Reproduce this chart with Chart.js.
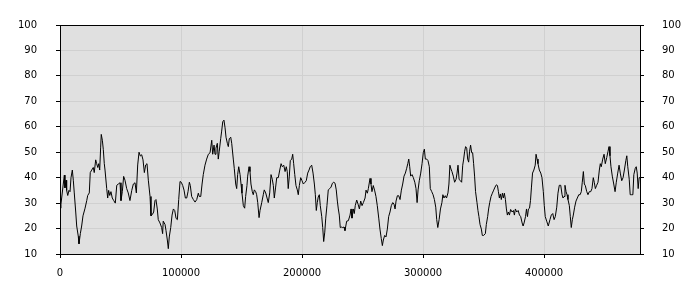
<!DOCTYPE html>
<html>
<head>
<meta charset="utf-8">
<script src="https://cdn.jsdelivr.net/npm/chart.js@4/dist/chart.umd.min.js"></script>
<style>
body{margin:0;background:#fff}
</style>
</head>
<body>
<canvas id="chart" width="700" height="300"></canvas>
<script>
// x positions of the samples
let xs = [0,800,2700,3600,4100,5000,5500,6400,7400,8300,9100,10200,11000,11800,13000,13800,15100,15700,16800,17900,
19000,20700,22100,22900,24200,25000,26200,27500,28300,29500,30300,31200,32000,32800,33600,34100,35000,35800,36600,37200,
38600,39400,40200,41100,42100,43200,44400,45700,46900,48200,49600,50400,51500,52600,53700,55100,56400,57800,59300,60600,
62000,63100,64200,65300,66400,67500,68600,69700,70800,71900,73000,74400,75200,76300,77400,78500,79300,80400,81200,82600,
84000,84800,85300,86800,87600,88700,89500,90300,91500,92600,93700,94800,95900,97000,98100,99200,100200,101400,102500,103600,
104700,105800,106900,107700,108800,110200,111600,113000,114300,115100,116300,117400,118400,119800,121200,122600,124000,125400,126200,127300,
128100,128900,130000,130800,131600,132800,133600,134500,135500,136400,137200,138300,139100,139900,141100,141900,143200,144000,145200,146000,
146800,147700,148800,149600,150400,151500,152600,153400,154500,155100,156200,157000,157800,158900,159700,160600,161700,162500,163400,164500,
165300,166700,168000,168800,170000,171100,172100,173300,174400,175400,176300,177100,178200,179100,180400,181600,182700,183700,184900,186000,
187000,187800,188600,189500,190300,191500,192300,193100,194000,195000,196100,196900,197800,198900,200000,201100,202500,203500,204700,205800,
206800,208000,209100,210200,211000,211800,212600,213400,214300,215100,216300,217100,217900,218800,219600,220600,221700,222900,224000,225100,
226200,227300,228300,229200,230000,230800,231600,232400,233600,234700,235500,236900,238300,239700,240500,241300,242400,243200,244000,245200,
246300,247400,248500,249600,250700,252100,252900,254000,254800,256200,257000,257800,258900,260100,261100,262200,263400,264400,265500,266400,
267200,268300,269400,270500,271600,272700,273800,275000,276000,276900,277700,278800,279900,281000,282100,283200,284300,285400,286500,287400,
288200,289000,289800,290900,292000,293200,294200,295100,295900,296900,298100,299200,300200,301100,301900,303100,304100,305200,306000,307200,
308300,309400,310500,311300,312200,313300,314400,315600,316400,317300,318400,319400,320600,321400,322200,323100,323900,325000,326100,327300,
328100,328900,329800,330800,331900,332800,333600,334400,335200,336100,336900,337700,338500,339300,340200,341000,341800,342600,343400,344600,
345400,346200,347100,348200,349000,350100,351500,352300,353400,354200,355100,356200,357300,358400,359500,360600,361500,362300,363100,363900,
364700,365600,366400,367200,368100,368900,369700,370500,371400,372400,373600,374700,375500,376300,377400,378600,379700,380700,381900,382700,
383500,384700,385500,386300,387100,388000,388800,389600,390500,391600,392700,393400,394200,395000,396100,397300,398300,399400,400200,401000,
402200,403500,404900,406000,407200,408300,409300,410500,411500,412600,413800,414900,415700,416500,417300,418200,419000,419800,420900,421700,
422500,423400,424200,425300,426400,427500,428700,429800,430800,431600,432500,433300,434100,435300,436300,437400,438600,439600,440700,441500,
442400,443500,444600,445700,446500,447300,448500,449600,450600,451800,452900,453700,454500,455300,456400,457600,458700,459700,460900,462000,
463000,464200,465300,466400,467600,468400,469200,470400,471200,472300,473400,474200,475400,476200,477000,477800,478600,479300]

let ys = [28,29.6,37.5,41,36,39,35,33,35,34.5,40,43,39,34,26.5,21,17,14,18,21,
25,28,31,33,34,42,43,44,42,47,45.5,44,45.5,43,52,57,54.7,51,45.5,43,
35.7,32,35,33,34.5,32,31,30,37,37.5,38,31,34.5,40.5,39,35.7,34,31,35,37.5,
38,34,45,50,48.5,49,47,42,45,45.5,39,32.6,25,25.5,26.5,31,31.4,27.7,23.5,22.2,
20.4,18,22.9,21.6,19.2,15.5,12.1,16.7,20.4,25.3,27.7,27.1,24,23.5,31.4,38.5,38.2,36.9,35.1,32,
32,34.5,38.2,36.9,32.6,31.4,30.4,31.4,33.9,32.6,32.6,37.5,41.2,44.9,47.3,49.2,49.8,54.7,49.2,52.8,
49.2,51.6,53.5,47.3,50.4,55.3,58.3,62,62.6,59.6,55.9,53.5,52.2,55.3,55.9,53.5,47.3,43.7,37.5,35.7,
41.2,44.3,41.2,37.5,33.9,29,28,32.6,36.9,40.6,44.3,42.4,37.5,34.5,33.3,35.2,34.5,33.3,30.2,24.3,
27.1,30.2,33.3,35.2,34,32,30.2,34,41.2,39.4,36.9,32,36.3,40,40,43,45.5,44.3,44.9,42.4,
44.3,42.4,35.7,40.6,46.7,47.3,49.2,45.5,41.2,36.9,35.2,33.3,36.9,40,38.8,37.5,38.2,38.8,41.8,43,
44.3,44.9,41.8,37.5,33.3,27.1,30.2,32.4,33.3,29,24.7,20.4,14.9,18.6,24.1,29,35.2,35.7,36.3,37.8,
38.2,37.8,35.2,30.8,27.7,25.3,20.4,20.6,20.4,20.6,19.2,22.9,23.1,25.3,27.7,24.1,27.7,25.9,29,31.2,
29.6,27.7,30.8,29,30.2,32,35.1,33.9,35.7,39.7,37.5,34.5,36.9,34.8,32.6,29,24.1,19.8,16.1,13.3,
15.5,17.3,16.7,19.8,24.7,26.5,29,30.2,29.6,27.7,30.8,32.9,32.9,31.4,35.1,37.5,40.6,41.8,43.7,45.5,
47.3,44.3,40.6,41.2,40,38.2,35.7,30.2,35.2,38.8,41.8,45.5,49.8,51.2,47.3,47.3,46.7,44.3,35.7,34.5,
33.3,31.4,28.4,23.5,20.4,23.5,27.7,30.2,33.3,32,32.9,32,34,37.5,44.9,43.4,42.4,40.6,38.2,39.4,
41.8,44.9,39.4,38.8,38.2,44.9,47.3,50.4,52.2,51.6,47.3,46.1,50.4,52.8,49.8,49.8,45.5,40.6,34.5,30.2,
27.1,24.7,21.6,19.8,17.3,17.3,18,21.6,24.7,27.7,30.2,32.6,33.9,35.1,36.3,37.2,36.9,34.5,32,33.6,
31.4,33.9,32,33.9,31.4,27.7,25.3,26.5,25.3,27.5,26.5,27.1,25.3,27.7,26.5,27.1,25.3,24.7,22.2,21,
22.2,24.7,27.7,24.7,27.7,28,31,36.3,41.8,43,44.9,49.2,47.3,45.5,43,41.8,40,34.5,29,24.7,
22.9,21,23.5,25.3,25.9,23.5,24.7,28.4,33.9,37,37,33.3,32,32.6,37,34.5,33.3,31.4,29,24.7,
20.4,23.5,25.3,28.4,30.8,32,33.3,33.3,34.5,38.2,42.4,37.5,36.9,34.5,33.3,34.5,34.5,35.7,40,38.2,
35.7,37,38.2,43,45.5,44.3,47.3,49.2,45.5,47.9,50.4,52.2,48.6,44.3,40.6,37.5,34.5,38.2,41.8,44.9,
41.8,38.8,40,43,46.7,48.6,44.3,39.4,33.3,33.3,33.3,41.2,43.7,44.3,41.8,35.7,40,40]

let x_ticks = [0,100000,200000,300000,400000]
let y_ticks = [10,20,30,40,50,60,70,80,90,100]
let x_max = 479300
let y_min = 10
let y_max = 100

let plot_frame = {
	id: 'plot_frame',
	beforeDraw: function(chart){
		let a = chart.chartArea
		let ctx = chart.ctx
		ctx.save()
		ctx.fillStyle = '#e0e0e0'
		ctx.fillRect(a.left, a.top, a.right - a.left, a.bottom - a.top)
		ctx.restore()
	},
	afterDraw: function(chart){
		let a = chart.chartArea
		let ctx = chart.ctx
		ctx.save()
		ctx.strokeStyle = '#000'
		ctx.lineWidth = 1
		ctx.strokeRect(a.left + 0.5, a.top + 0.5, a.right - a.left, a.bottom - a.top)
		ctx.restore()
	}
}

let tick_font = { family: 'DejaVu Sans', size: 10 }

function y_axis(pos, pad, on_area){
	return {
		type: 'linear',
		position: pos,
		min: y_min,
		max: y_max,
		afterBuildTicks: (s)=>{ s.ticks = y_ticks.map(v=>({value: v})) },
		afterFit: (s)=>{ s.width = 60 },
		grid: { color: '#d0d0d0', tickColor: '#000', tickLength: 4, drawOnChartArea: on_area },
		border: { display: false },
		ticks: { font: tick_font, color: '#000', padding: pad, callback: (v)=>String(v) }
	}
}

new Chart('chart', {
	type: 'line',
	data: {
		datasets: [{
			data: xs.map((x, i)=>({ x: x, y: ys[i] })),
			borderColor: '#000',
			borderWidth: 1,
			pointRadius: 0,
			tension: 0,
			fill: false
		}]
	},
	options: {
		responsive: false,
		animation: false,
		devicePixelRatio: 1,
		layout: { padding: { top: 10, left: 0, right: 0, bottom: 0 } },
		plugins: { legend: { display: false }, tooltip: { enabled: false } },
		scales: {
			x: {
				type: 'linear',
				min: 0,
				max: x_max,
				afterBuildTicks: (s)=>{ s.ticks = x_ticks.map(v=>({value: v})) },
				afterFit: (s)=>{ s.height = 46 },
				grid: { color: '#d0d0d0', tickColor: '#000', tickLength: 4 },
				border: { display: false },
				ticks: { font: tick_font, color: '#000', padding: 9, maxRotation: 0, callback: (v)=>String(v) }
			},
			y: y_axis('left', 19, true),
			y2: y_axis('right', 18, false)
		}
	},
	plugins: [plot_frame]
})
</script>
</body>
</html>
